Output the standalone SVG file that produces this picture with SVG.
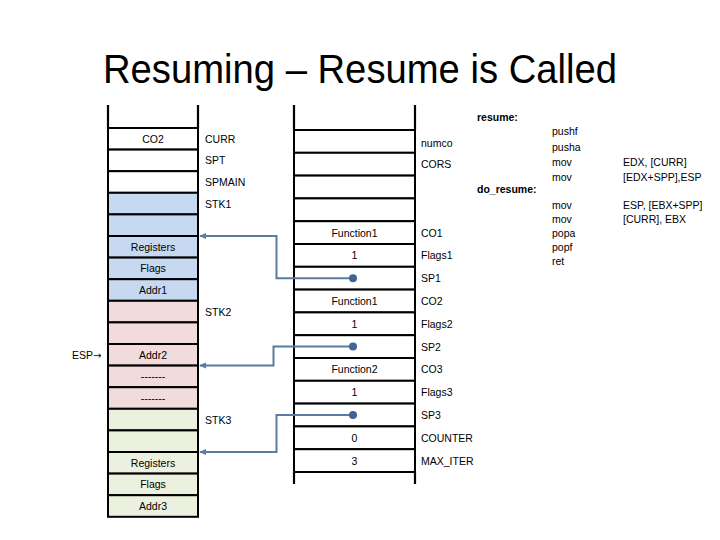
<svg xmlns="http://www.w3.org/2000/svg" width="720" height="540" viewBox="0 0 720 540">
<defs>
<style>
text{font-family:"Liberation Sans","DejaVu Sans",sans-serif;font-size:10.5px;fill:#000;dominant-baseline:central}
.c{text-anchor:middle}
.b{font-weight:bold}
.title{font-size:40px;dominant-baseline:auto}
.cell{stroke:#000;stroke-width:2}
.w{fill:#fff}
.bl{fill:#c6d9f1}
.pk{fill:#f2dcdb}
.gr{fill:#ebf1de}
.side{stroke:#000;stroke-width:2.2;fill:none}
.conn{stroke:#5a7c9e;stroke-width:2;fill:none}
.dot{fill:#3f6593}
.arr{font-family:"DejaVu Sans",sans-serif;font-size:10px}
</style>
<marker id="ah" markerWidth="8" markerHeight="8" refX="6" refY="4" orient="auto" markerUnits="userSpaceOnUse">
<path d="M0,1 L7,4 L0,7 Z" fill="#5a7c9e"/>
</marker>
</defs>
<rect width="720" height="540" fill="#fff"/>
<text class="title" x="360" y="83" text-anchor="middle" textLength="514" lengthAdjust="spacingAndGlyphs">Resuming – Resume is Called</text>

<g id="left-stack">
<rect class="cell w" x="108" y="128" width="90" height="21.6"/>
<rect class="cell w" x="108" y="149.6" width="90" height="21.6"/>
<rect class="cell w" x="108" y="171.2" width="90" height="21.6"/>
<rect class="cell bl" x="108" y="192.8" width="90" height="21.6"/>
<rect class="cell bl" x="108" y="214.4" width="90" height="21.6"/>
<rect class="cell bl" x="108" y="236" width="90" height="21.6"/>
<rect class="cell bl" x="108" y="257.6" width="90" height="21.6"/>
<rect class="cell bl" x="108" y="279.2" width="90" height="21.6"/>
<rect class="cell pk" x="108" y="300.8" width="90" height="21.6"/>
<rect class="cell pk" x="108" y="322.4" width="90" height="21.6"/>
<rect class="cell pk" x="108" y="344" width="90" height="21.6"/>
<rect class="cell pk" x="108" y="365.6" width="90" height="21.6"/>
<rect class="cell pk" x="108" y="387.2" width="90" height="21.6"/>
<rect class="cell gr" x="108" y="408.8" width="90" height="21.6"/>
<rect class="cell gr" x="108" y="430.4" width="90" height="21.6"/>
<rect class="cell gr" x="108" y="452" width="90" height="21.6"/>
<rect class="cell gr" x="108" y="473.6" width="90" height="21.6"/>
<rect class="cell gr" x="108" y="495.2" width="90" height="21.6"/>
<path class="side" d="M108,105 V128 M198,105 V128"/>
<text class="c" x="153" y="138.8">CO2</text>
<text class="c" x="153" y="246.8">Registers</text>
<text class="c" x="153" y="268.4">Flags</text>
<text class="c" x="153" y="290">Addr1</text>
<text class="c" x="153" y="354.8">Addr2</text>
<text class="c" x="153" y="376.4">-------</text>
<text class="c" x="153" y="398">-------</text>
<text class="c" x="153" y="462.8">Registers</text>
<text class="c" x="153" y="484.4">Flags</text>
<text class="c" x="153" y="506">Addr3</text>
<text x="205" y="138.8">CURR</text>
<text x="205" y="160.4">SPT</text>
<text x="205" y="182">SPMAIN</text>
<text x="205" y="203.6">STK1</text>
<text x="205" y="311.6">STK2</text>
<text x="205" y="419.6">STK3</text>
<text x="72" y="354.8">ESP<tspan class="arr">→</tspan></text>
</g>

<g id="middle-stack">
<rect class="cell w" x="294" y="130" width="121" height="22.8"/>
<rect class="cell w" x="294" y="152.8" width="121" height="22.8"/>
<rect class="cell w" x="294" y="175.6" width="121" height="22.8"/>
<rect class="cell w" x="294" y="198.4" width="121" height="22.8"/>
<rect class="cell w" x="294" y="221.2" width="121" height="22.8"/>
<rect class="cell w" x="294" y="244" width="121" height="22.8"/>
<rect class="cell w" x="294" y="266.8" width="121" height="22.8"/>
<rect class="cell w" x="294" y="289.6" width="121" height="22.8"/>
<rect class="cell w" x="294" y="312.4" width="121" height="22.8"/>
<rect class="cell w" x="294" y="335.2" width="121" height="22.8"/>
<rect class="cell w" x="294" y="358" width="121" height="22.8"/>
<rect class="cell w" x="294" y="380.8" width="121" height="22.8"/>
<rect class="cell w" x="294" y="403.6" width="121" height="22.8"/>
<rect class="cell w" x="294" y="426.4" width="121" height="22.8"/>
<rect class="cell w" x="294" y="449.2" width="121" height="22.8"/>
<path class="side" d="M294,105 V130 M415,105 V130 M294,472 V484 M415,472 V484"/>
<text class="c" x="354.5" y="232.6">Function1</text>
<text class="c" x="354.5" y="255.4">1</text>
<text class="c" x="354.5" y="301">Function1</text>
<text class="c" x="354.5" y="323.8">1</text>
<text class="c" x="354.5" y="369.4">Function2</text>
<text class="c" x="354.5" y="392.2">1</text>
<text class="c" x="354.5" y="437.8">0</text>
<text class="c" x="354.5" y="460.6">3</text>
<text x="421" y="143">numco</text>
<text x="421" y="164.2">CORS</text>
<text x="421" y="232.6">CO1</text>
<text x="421" y="255.4">Flags1</text>
<text x="421" y="278.2">SP1</text>
<text x="421" y="301">CO2</text>
<text x="421" y="323.8">Flags2</text>
<text x="421" y="346.6">SP2</text>
<text x="421" y="369.4">CO3</text>
<text x="421" y="392.2">Flags3</text>
<text x="421" y="415">SP3</text>
<text x="421" y="437.8">COUNTER</text>
<text x="421" y="460.6">MAX_ITER</text>
</g>

<g id="connectors">
<path class="conn" d="M353,278.2 H276.5 V236 H200" marker-end="url(#ah)"/>
<path class="conn" d="M353,346.6 H273.5 V365.6 H200" marker-end="url(#ah)"/>
<path class="conn" d="M353,415 H276.5 V452 H200" marker-end="url(#ah)"/>
<circle class="dot" cx="353" cy="278.2" r="4"/>
<circle class="dot" cx="353" cy="346.6" r="4"/>
<circle class="dot" cx="353" cy="415" r="4"/>
</g>

<g id="code">
<text class="b" x="477" y="117">resume:</text>
<text x="552" y="131">pushf</text>
<text x="552" y="147">pusha</text>
<text x="552" y="162">mov</text>
<text x="552" y="177">mov</text>
<text x="623" y="162">EDX, [CURR]</text>
<text x="623" y="177">[EDX+SPP],ESP</text>
<text class="b" x="477" y="189">do_resume:</text>
<text x="552" y="205">mov</text>
<text x="552" y="219">mov</text>
<text x="623" y="205">ESP, [EBX+SPP]</text>
<text x="623" y="219">[CURR], EBX</text>
<text x="552" y="233">popa</text>
<text x="552" y="247">popf</text>
<text x="552" y="261">ret</text>
</g>
</svg>
